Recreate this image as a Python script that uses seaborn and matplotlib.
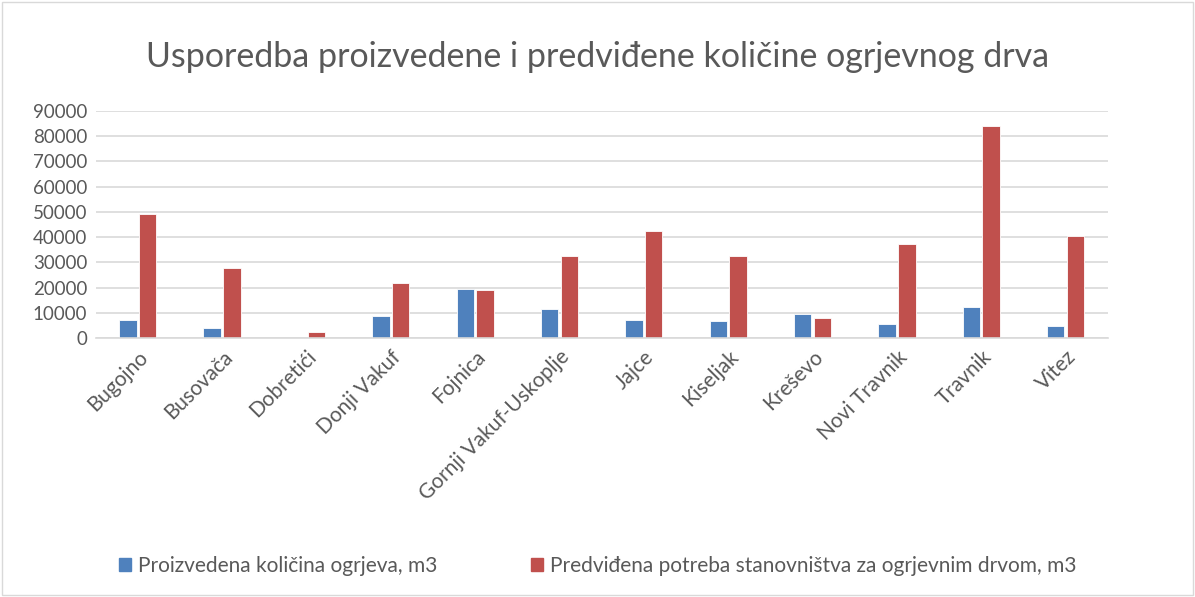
import numpy as np
import pandas as pd
import matplotlib.pyplot as plt
import matplotlib.patches as mpatches
import seaborn as sns

sns.set_style('white')
plt.rcParams['font.family'] = ['Lato', 'DejaVu Sans']

# data
municipalities = ['Bugojno', 'Busovača', 'Dobretići', 'Donji Vakuf', 'Fojnica',
                  'Gornji Vakuf-Uskoplje', 'Jajce', 'Kiseljak', 'Kreševo',
                  'Novi Travnik', 'Travnik', 'Vitez']
produced = [7250, 4200, 0, 8700, 19500, 11600, 7250, 6700, 9500, 5500, 12400, 4900]
needed = [49300, 27900, 2400, 21700, 19250, 32700, 42600, 32500, 8050, 37300, 83900, 40600]
series_names = ['Proizvedena količina ogrjeva, m3',
                'Predviđena potreba stanovništva za ogrjevnim drvom, m3']
colors = ['#4F81BD', '#C0504D']

df = pd.DataFrame({'opcina': municipalities * 2,
                   'vrijednost': produced + needed,
                   'serija': [series_names[0]] * len(municipalities) + [series_names[1]] * len(municipalities)})

fig = plt.figure(figsize=(11.95, 5.97), dpi=100)
ax = fig.add_axes([0.080, 0.4333, 0.847, 0.3813])

sns.barplot(data=df, x='opcina', y='vrijednost', hue='serija',
            palette=colors, saturation=1, width=0.47, gap=0.12,
            edgecolor='white', linewidth=0.6, legend=False, ax=ax)

txt = '#595959'
ax.set_ylim(0, 90000)
ax.set_yticks(np.arange(0, 90001, 10000))
ax.set_yticklabels([str(v) for v in range(0, 90001, 10000)], fontsize=13.5, color=txt)
ax.yaxis.grid(True, color='#D9D9D9', linewidth=1.2)
ax.set_axisbelow(True)
ax.set_xlim(-0.5, len(municipalities) - 0.5)
ax.set_xticks(range(len(municipalities)))
ax.set_xticklabels(municipalities, rotation=45, ha='right', rotation_mode='anchor',
                   fontsize=15, color=txt)
ax.tick_params(axis='both', length=0, pad=6)
ax.set_xlabel('')
ax.set_ylabel('')
for s in ['top', 'right', 'left']:
    ax.spines[s].set_visible(False)
ax.spines['bottom'].set_color('#D9D9D9')
ax.spines['bottom'].set_linewidth(1.2)

fig.text(0.5, 0.905, 'Usporedba proizvedene i predviđene količine ogrjevnog drva',
         ha='center', va='center', fontsize=24.5, color=txt)

handles = [mpatches.Patch(color=c, label=n) for c, n in zip(colors, series_names)]
fig.legend(handles=handles, loc='center', bbox_to_anchor=(0.5, 0.052), ncol=2,
           frameon=False, fontsize=15, labelcolor=txt, handlelength=0.6,
           handleheight=0.6, handletextpad=0.3, columnspacing=4.5)

fig.patches.append(mpatches.Rectangle((0.002, 0.003), 0.996, 0.994, transform=fig.transFigure,
                                      fill=False, edgecolor='#D9D9D9', linewidth=1))

fig.savefig('out.png', dpi=100)
